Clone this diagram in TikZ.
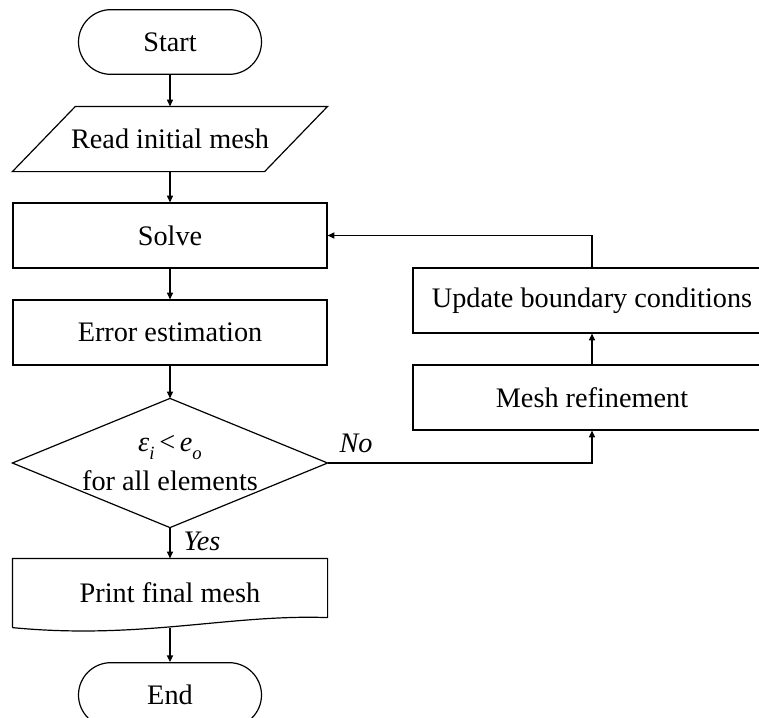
\documentclass[tikz,border=0pt]{standalone}
\usepackage{fontspec}
\setmainfont{Liberation Serif}
\usetikzlibrary{shapes.misc,arrows.meta}
\begin{document}
\begin{tikzpicture}[x=0.75pt,y=-0.75pt, line width=0.9pt,
  every node/.style={font=\fontsize{21.2}{29}\selectfont, inner sep=0pt},
  term/.style={draw, rounded rectangle, minimum width=137.25pt, minimum height=48.5pt},
  proc/.style={draw, rectangle, minimum width=235.5pt, minimum height=48.75pt},
  side/.style={draw, rectangle, minimum width=268.5pt, minimum height=48.75pt},
  ghost/.style={rectangle, minimum width=235.5pt},
  flow/.style={-{Triangle[length=5pt,width=4.5pt]}},
  lbl/.style={font=\fontsize{21.2}{25}\selectfont\itshape}]
\useasboundingbox (0,0) rectangle (759,717);
\clip (0,0) rectangle (759,717);

% main column
\node[term] (start) at (170,42) {Start};
\node[ghost, minimum height=48pt] (read) at (170,139) {Read initial mesh};
\draw ([xshift=47.25pt]read.north west) -- (read.north east)
      -- ([xshift=-47.25pt]read.south east) -- (read.south west) -- cycle;
\node[proc] (solve) at (170,235.5) {Solve};
\node[proc] (err) at (170,332.5) {Error estimation};
\node[ghost, minimum height=96pt, align=center] (dec) at (170,463)
  {\textit{ε\raisebox{-0.28em}{\fontsize{14}{14}\selectfont i}}\,<\,\textit{e\raisebox{-0.28em}{\fontsize{14}{14}\selectfont o}}\\for all elements};
\draw (dec.north) -- (dec.east) -- (dec.south) -- (dec.west) -- cycle;
\node[ghost, minimum height=51pt] (print) at (170,593) {Print final mesh};
\draw (print.south west) -- (print.north west) -- (print.north east)
      -- ([yshift=7.5pt]print.south east)
      .. controls (230,614) and (140,640) .. (print.south west);
\node[term] (end) at (170,695) {End};

% refinement loop
\node[side] (update) at (592,300.5) {Update boundary conditions};
\node[side] (mesh) at (592,397.5) {Mesh refinement};

% connectors
\draw[flow] (start.south) -- (read.north);
\draw[flow] (read.south) -- (solve.north);
\draw[flow] (solve.south) -- (err.north);
\draw[flow] (err.south) -- (dec.north);
\draw[flow] (dec.south) -- (print.north);
\draw[flow] (print.south) -- (end.north);
\draw[flow] (dec.east) -| (mesh.south);
\draw[flow] (mesh.north) -- (update.south);
\draw[flow] (update.north) |- (solve.east);

% branch labels
\node[lbl] (no) at (356,443) {No};
\node[lbl] (yes) at (202,541) {Yes};
\end{tikzpicture}
\end{document}
